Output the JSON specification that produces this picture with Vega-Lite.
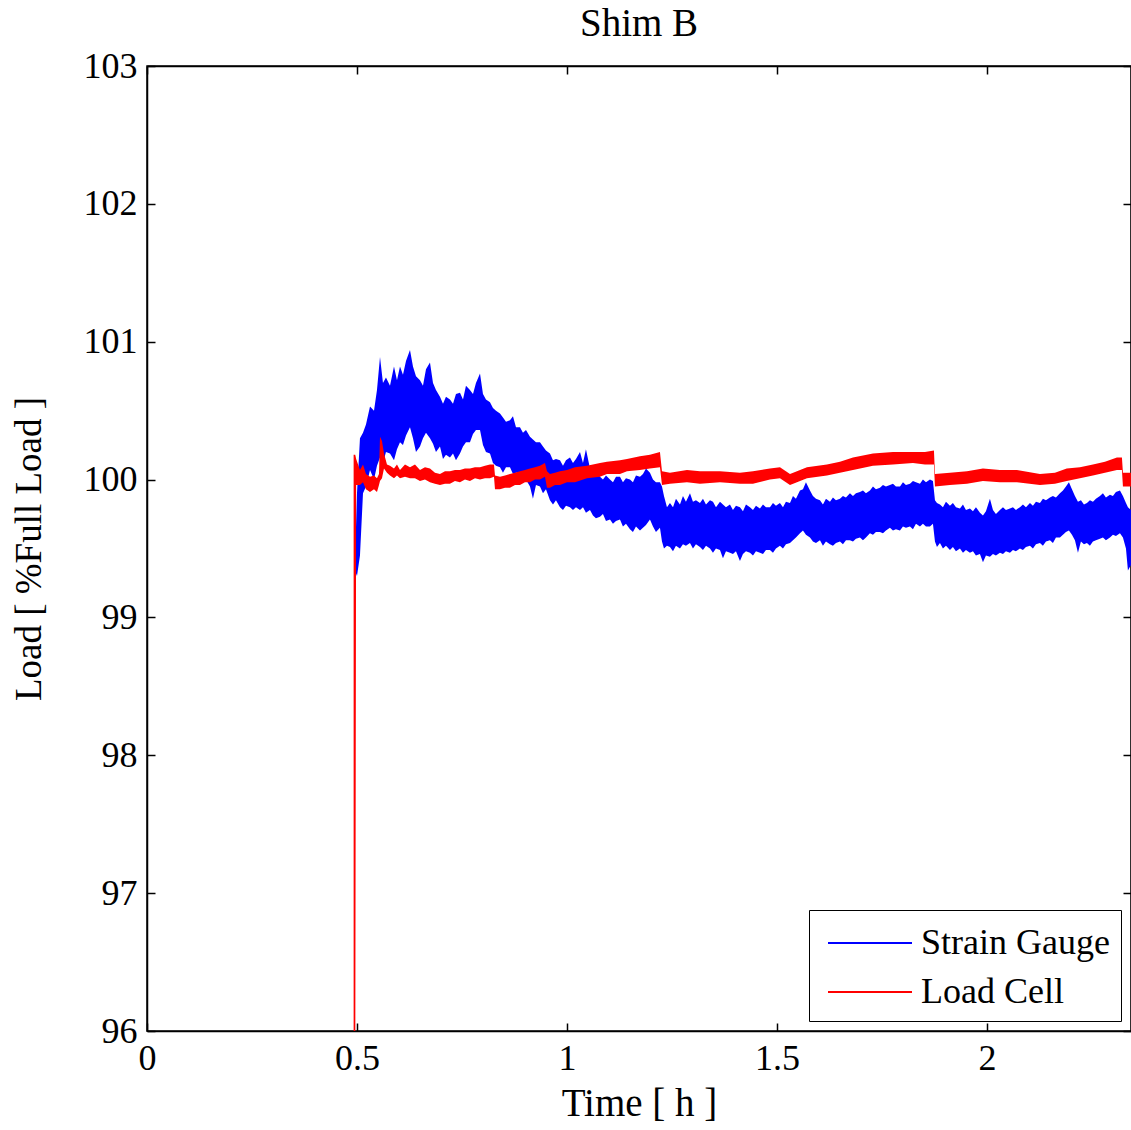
{
  "$schema": "https://vega.github.io/schema/vega-lite/v6.json",
  "width": 984,
  "height": 965,
  "autosize": {"type": "none"},
  "padding": {"left": 147, "top": 66, "right": 0, "bottom": 99},
  "background": "white",
  "title": {"text": "Shim B", "font": "Liberation Serif", "fontSize": 39, "fontWeight": "normal", "color": "black", "offset": 4, "anchor": "middle"},
  "config": {
    "view": {"stroke": "black", "strokeWidth": 1.5},
    "axis": {"grid": false, "domainColor": "black", "domainWidth": 1.5, "tickColor": "black", "tickWidth": 1.5, "tickSize": -8, "labelFlush": false, "labelFont": "Liberation Serif", "labelFontSize": 36, "labelColor": "black", "titleFont": "Liberation Serif", "titleFontSize": 39, "titleFontWeight": "normal", "titleColor": "black"},
    "legend": {"labelFont": "Liberation Serif", "labelFontSize": 36, "labelColor": "black", "labelLimit": 0}
  },
  "datasets": {
    "sg": [
      {"t":0.4952,"lo":99.34,"hi":99.40},{"t":0.5,"lo":99.30,"hi":99.90},{"t":0.5071,"lo":99.45,"hi":100.30},{"t":0.5143,"lo":99.90,"hi":100.34},{"t":0.5214,"lo":99.95,"hi":100.40},{"t":0.531,"lo":100.07,"hi":100.53},{"t":0.5405,"lo":100.0,"hi":100.50},{"t":0.5476,"lo":100.10,"hi":100.65},{"t":0.5548,"lo":100.16,"hi":100.89},{"t":0.5619,"lo":100.12,"hi":100.70},{"t":0.569,"lo":100.20,"hi":100.74},{"t":0.5786,"lo":100.19,"hi":100.68},{"t":0.5881,"lo":100.14,"hi":100.82},{"t":0.5952,"lo":100.22,"hi":100.72},{"t":0.6024,"lo":100.27,"hi":100.82},{"t":0.6095,"lo":100.25,"hi":100.76},{"t":0.6167,"lo":100.32,"hi":100.86},{"t":0.6262,"lo":100.38,"hi":100.94},{"t":0.6333,"lo":100.30,"hi":100.82},{"t":0.6405,"lo":100.20,"hi":100.75},{"t":0.65,"lo":100.24,"hi":100.72},{"t":0.6571,"lo":100.30,"hi":100.68},{"t":0.6643,"lo":100.34,"hi":100.80},{"t":0.6738,"lo":100.30,"hi":100.85},{"t":0.681,"lo":100.26,"hi":100.70},{"t":0.6881,"lo":100.20,"hi":100.65},{"t":0.6976,"lo":100.24,"hi":100.60},{"t":0.7048,"lo":100.15,"hi":100.55},{"t":0.7119,"lo":100.18,"hi":100.60},{"t":0.7214,"lo":100.16,"hi":100.58},{"t":0.7286,"lo":100.19,"hi":100.55},{"t":0.7357,"lo":100.14,"hi":100.62},{"t":0.7452,"lo":100.19,"hi":100.63},{"t":0.7524,"lo":100.24,"hi":100.58},{"t":0.7595,"lo":100.27,"hi":100.68},{"t":0.769,"lo":100.27,"hi":100.65},{"t":0.7762,"lo":100.33,"hi":100.62},{"t":0.7833,"lo":100.36,"hi":100.70},{"t":0.7929,"lo":100.36,"hi":100.77},{"t":0.8,"lo":100.25,"hi":100.62},{"t":0.8071,"lo":100.20,"hi":100.58},{"t":0.8167,"lo":100.19,"hi":100.56},{"t":0.8238,"lo":100.12,"hi":100.52},{"t":0.831,"lo":100.10,"hi":100.50},{"t":0.8405,"lo":100.09,"hi":100.48},{"t":0.8476,"lo":100.05,"hi":100.45},{"t":0.8548,"lo":100.09,"hi":100.42},{"t":0.8643,"lo":100.09,"hi":100.43},{"t":0.8714,"lo":100.04,"hi":100.46},{"t":0.8786,"lo":100.05,"hi":100.38},{"t":0.8881,"lo":100.05,"hi":100.38},{"t":0.8952,"lo":99.98,"hi":100.34},{"t":0.9024,"lo":100.0,"hi":100.36},{"t":0.9119,"lo":99.95,"hi":100.31},{"t":0.919,"lo":99.86,"hi":100.29},{"t":0.9262,"lo":99.96,"hi":100.27},{"t":0.9357,"lo":99.95,"hi":100.27},{"t":0.9429,"lo":99.90,"hi":100.24},{"t":0.95,"lo":99.93,"hi":100.21},{"t":0.9595,"lo":99.85,"hi":100.19},{"t":0.9667,"lo":99.82,"hi":100.14},{"t":0.9738,"lo":99.85,"hi":100.15},{"t":0.9833,"lo":99.80,"hi":100.14},{"t":0.9905,"lo":99.78,"hi":100.10},{"t":0.9976,"lo":99.81,"hi":100.14},{"t":1.0071,"lo":99.80,"hi":100.16},{"t":1.0143,"lo":99.78,"hi":100.12},{"t":1.0214,"lo":99.80,"hi":100.15},{"t":1.031,"lo":99.78,"hi":100.20},{"t":1.0381,"lo":99.80,"hi":100.12},{"t":1.0452,"lo":99.76,"hi":100.22},{"t":1.0548,"lo":99.78,"hi":100.08},{"t":1.0619,"lo":99.74,"hi":100.02},{"t":1.069,"lo":99.72,"hi":100.06},{"t":1.0786,"lo":99.73,"hi":100.02},{"t":1.0857,"lo":99.75,"hi":100.0},{"t":1.0929,"lo":99.70,"hi":100.03},{"t":1.1024,"lo":99.71,"hi":100.0},{"t":1.1095,"lo":99.68,"hi":99.98},{"t":1.1167,"lo":99.70,"hi":100.02},{"t":1.1262,"lo":99.71,"hi":100.02},{"t":1.1333,"lo":99.66,"hi":99.98},{"t":1.1405,"lo":99.68,"hi":100.01},{"t":1.15,"lo":99.64,"hi":100.0},{"t":1.1571,"lo":99.62,"hi":99.98},{"t":1.1643,"lo":99.66,"hi":100.03},{"t":1.1738,"lo":99.63,"hi":100.02},{"t":1.181,"lo":99.65,"hi":100.04},{"t":1.1881,"lo":99.67,"hi":100.08},{"t":1.1976,"lo":99.71,"hi":100.05},{"t":1.2048,"lo":99.66,"hi":100.0},{"t":1.2119,"lo":99.62,"hi":99.98},{"t":1.2214,"lo":99.65,"hi":99.98},{"t":1.2262,"lo":99.55,"hi":99.95},{"t":1.231,"lo":99.50,"hi":99.88},{"t":1.2381,"lo":99.52,"hi":99.80},{"t":1.2452,"lo":99.51,"hi":99.83},{"t":1.2524,"lo":99.48,"hi":99.80},{"t":1.2595,"lo":99.52,"hi":99.86},{"t":1.269,"lo":99.50,"hi":99.82},{"t":1.2762,"lo":99.53,"hi":99.88},{"t":1.2833,"lo":99.52,"hi":99.84},{"t":1.2929,"lo":99.54,"hi":99.90},{"t":1.3,"lo":99.50,"hi":99.84},{"t":1.3071,"lo":99.53,"hi":99.85},{"t":1.3167,"lo":99.51,"hi":99.83},{"t":1.3238,"lo":99.49,"hi":99.86},{"t":1.331,"lo":99.52,"hi":99.82},{"t":1.3405,"lo":99.50,"hi":99.85},{"t":1.3476,"lo":99.47,"hi":99.84},{"t":1.3548,"lo":99.50,"hi":99.80},{"t":1.3643,"lo":99.49,"hi":99.84},{"t":1.3714,"lo":99.43,"hi":99.82},{"t":1.3786,"lo":99.48,"hi":99.80},{"t":1.3881,"lo":99.47,"hi":99.82},{"t":1.3952,"lo":99.46,"hi":99.78},{"t":1.4024,"lo":99.48,"hi":99.81},{"t":1.4119,"lo":99.41,"hi":99.80},{"t":1.419,"lo":99.46,"hi":99.77},{"t":1.4262,"lo":99.48,"hi":99.82},{"t":1.4357,"lo":99.47,"hi":99.80},{"t":1.4429,"lo":99.45,"hi":99.78},{"t":1.45,"lo":99.48,"hi":99.81},{"t":1.4595,"lo":99.47,"hi":99.79},{"t":1.4667,"lo":99.46,"hi":99.82},{"t":1.4738,"lo":99.49,"hi":99.80},{"t":1.4833,"lo":99.49,"hi":99.80},{"t":1.4905,"lo":99.47,"hi":99.83},{"t":1.4976,"lo":99.50,"hi":99.81},{"t":1.5071,"lo":99.52,"hi":99.83},{"t":1.5143,"lo":99.50,"hi":99.80},{"t":1.5214,"lo":99.53,"hi":99.84},{"t":1.531,"lo":99.54,"hi":99.83},{"t":1.5381,"lo":99.56,"hi":99.88},{"t":1.5452,"lo":99.58,"hi":99.86},{"t":1.5548,"lo":99.61,"hi":99.92},{"t":1.5619,"lo":99.63,"hi":99.93},{"t":1.569,"lo":99.60,"hi":99.98},{"t":1.5786,"lo":99.58,"hi":99.92},{"t":1.5857,"lo":99.55,"hi":99.88},{"t":1.5929,"lo":99.54,"hi":99.86},{"t":1.6024,"lo":99.56,"hi":99.85},{"t":1.6095,"lo":99.52,"hi":99.82},{"t":1.6167,"lo":99.55,"hi":99.86},{"t":1.6262,"lo":99.53,"hi":99.84},{"t":1.6333,"lo":99.52,"hi":99.87},{"t":1.6405,"lo":99.54,"hi":99.85},{"t":1.65,"lo":99.55,"hi":99.86},{"t":1.6571,"lo":99.53,"hi":99.88},{"t":1.6643,"lo":99.56,"hi":99.87},{"t":1.6738,"lo":99.56,"hi":99.90},{"t":1.681,"lo":99.55,"hi":99.88},{"t":1.6881,"lo":99.57,"hi":99.90},{"t":1.6976,"lo":99.58,"hi":99.91},{"t":1.7048,"lo":99.56,"hi":99.92},{"t":1.7119,"lo":99.58,"hi":99.90},{"t":1.7214,"lo":99.61,"hi":99.92},{"t":1.7286,"lo":99.60,"hi":99.95},{"t":1.7357,"lo":99.62,"hi":99.93},{"t":1.7452,"lo":99.62,"hi":99.94},{"t":1.7524,"lo":99.61,"hi":99.96},{"t":1.7595,"lo":99.63,"hi":99.95},{"t":1.769,"lo":99.65,"hi":99.96},{"t":1.7762,"lo":99.63,"hi":99.97},{"t":1.7833,"lo":99.64,"hi":99.95},{"t":1.7929,"lo":99.63,"hi":99.95},{"t":1.8,"lo":99.66,"hi":99.98},{"t":1.8071,"lo":99.65,"hi":99.96},{"t":1.8167,"lo":99.66,"hi":99.97},{"t":1.8238,"lo":99.64,"hi":99.99},{"t":1.831,"lo":99.68,"hi":99.98},{"t":1.8405,"lo":99.66,"hi":99.97},{"t":1.8476,"lo":99.68,"hi":100.0},{"t":1.8548,"lo":99.66,"hi":99.98},{"t":1.8643,"lo":99.66,"hi":100.0},{"t":1.8714,"lo":99.68,"hi":99.99},{"t":1.8762,"lo":99.55,"hi":99.85},{"t":1.881,"lo":99.51,"hi":99.83},{"t":1.8881,"lo":99.54,"hi":99.82},{"t":1.8952,"lo":99.50,"hi":99.80},{"t":1.9024,"lo":99.52,"hi":99.84},{"t":1.9119,"lo":99.49,"hi":99.81},{"t":1.919,"lo":99.51,"hi":99.83},{"t":1.9262,"lo":99.48,"hi":99.80},{"t":1.9357,"lo":99.50,"hi":99.79},{"t":1.9429,"lo":99.47,"hi":99.82},{"t":1.95,"lo":99.49,"hi":99.78},{"t":1.9595,"lo":99.47,"hi":99.79},{"t":1.9667,"lo":99.48,"hi":99.77},{"t":1.9738,"lo":99.45,"hi":99.80},{"t":1.9833,"lo":99.46,"hi":99.76},{"t":1.9905,"lo":99.40,"hi":99.74},{"t":1.9976,"lo":99.45,"hi":99.77},{"t":2.0071,"lo":99.44,"hi":99.86},{"t":2.0143,"lo":99.46,"hi":99.78},{"t":2.0214,"lo":99.45,"hi":99.75},{"t":2.031,"lo":99.47,"hi":99.78},{"t":2.0381,"lo":99.46,"hi":99.80},{"t":2.0452,"lo":99.48,"hi":99.78},{"t":2.0548,"lo":99.47,"hi":99.79},{"t":2.0619,"lo":99.49,"hi":99.80},{"t":2.069,"lo":99.48,"hi":99.78},{"t":2.0786,"lo":99.50,"hi":99.80},{"t":2.0857,"lo":99.49,"hi":99.82},{"t":2.0929,"lo":99.51,"hi":99.80},{"t":2.1024,"lo":99.52,"hi":99.83},{"t":2.1095,"lo":99.50,"hi":99.81},{"t":2.1167,"lo":99.53,"hi":99.84},{"t":2.1262,"lo":99.54,"hi":99.83},{"t":2.1333,"lo":99.52,"hi":99.86},{"t":2.1405,"lo":99.55,"hi":99.85},{"t":2.15,"lo":99.56,"hi":99.87},{"t":2.1571,"lo":99.54,"hi":99.88},{"t":2.1643,"lo":99.58,"hi":99.87},{"t":2.1738,"lo":99.58,"hi":99.90},{"t":2.181,"lo":99.60,"hi":99.92},{"t":2.1881,"lo":99.62,"hi":99.95},{"t":2.1952,"lo":99.63,"hi":99.98},{"t":2.2024,"lo":99.60,"hi":99.93},{"t":2.2095,"lo":99.56,"hi":99.88},{"t":2.2167,"lo":99.47,"hi":99.84},{"t":2.2238,"lo":99.55,"hi":99.85},{"t":2.231,"lo":99.53,"hi":99.82},{"t":2.2381,"lo":99.54,"hi":99.83},{"t":2.2452,"lo":99.52,"hi":99.85},{"t":2.2524,"lo":99.55,"hi":99.84},{"t":2.2595,"lo":99.56,"hi":99.86},{"t":2.269,"lo":99.57,"hi":99.88},{"t":2.2762,"lo":99.58,"hi":99.90},{"t":2.2833,"lo":99.56,"hi":99.87},{"t":2.2929,"lo":99.58,"hi":99.89},{"t":2.3,"lo":99.60,"hi":99.88},{"t":2.3071,"lo":99.59,"hi":99.91},{"t":2.3167,"lo":99.61,"hi":99.92},{"t":2.3238,"lo":99.58,"hi":99.88},{"t":2.331,"lo":99.50,"hi":99.83},{"t":2.3357,"lo":99.34,"hi":99.80},{"t":2.3429,"lo":99.38,"hi":99.78}
    ],
    "lc": [
      {"t":0.492,"lo":95.5,"hi":100.18},{"t":0.4958,"lo":95.5,"hi":100.18},{"t":0.498,"lo":99.96,"hi":100.15},{"t":0.5071,"lo":99.96,"hi":100.07},{"t":0.5143,"lo":99.98,"hi":100.11},{"t":0.5214,"lo":99.93,"hi":100.04},{"t":0.531,"lo":99.91,"hi":100.02},{"t":0.5405,"lo":99.93,"hi":100.03},{"t":0.5476,"lo":99.91,"hi":100.01},{"t":0.5524,"lo":99.96,"hi":100.04},{"t":0.5548,"lo":99.99,"hi":100.31},{"t":0.5595,"lo":100.01,"hi":100.28},{"t":0.5643,"lo":100.08,"hi":100.19},{"t":0.5714,"lo":100.05,"hi":100.11},{"t":0.5786,"lo":100.03,"hi":100.10},{"t":0.5881,"lo":100.01,"hi":100.08},{"t":0.5952,"lo":100.03,"hi":100.11},{"t":0.6024,"lo":100.01,"hi":100.07},{"t":0.6143,"lo":100.02,"hi":100.11},{"t":0.6262,"lo":100.01,"hi":100.09},{"t":0.6381,"lo":100.01,"hi":100.11},{"t":0.65,"lo":99.99,"hi":100.07},{"t":0.6619,"lo":100.0,"hi":100.09},{"t":0.6738,"lo":99.98,"hi":100.08},{"t":0.6857,"lo":99.97,"hi":100.05},{"t":0.6976,"lo":99.96,"hi":100.04},{"t":0.7095,"lo":99.97,"hi":100.06},{"t":0.7214,"lo":99.97,"hi":100.06},{"t":0.7333,"lo":99.99,"hi":100.07},{"t":0.7452,"lo":99.98,"hi":100.07},{"t":0.7571,"lo":100.0,"hi":100.08},{"t":0.769,"lo":99.99,"hi":100.08},{"t":0.781,"lo":100.01,"hi":100.09},{"t":0.7929,"lo":100.0,"hi":100.09},{"t":0.8048,"lo":100.01,"hi":100.10},{"t":0.8167,"lo":100.01,"hi":100.11},{"t":0.8262,"lo":100.02,"hi":100.11},{"t":0.8286,"lo":99.93,"hi":100.03},{"t":0.8405,"lo":99.93,"hi":100.02},{"t":0.8524,"lo":99.94,"hi":100.03},{"t":0.8643,"lo":99.94,"hi":100.04},{"t":0.8762,"lo":99.96,"hi":100.05},{"t":0.8881,"lo":99.96,"hi":100.06},{"t":0.9,"lo":99.98,"hi":100.07},{"t":0.9119,"lo":99.98,"hi":100.08},{"t":0.9238,"lo":100.0,"hi":100.09},{"t":0.9357,"lo":100.0,"hi":100.10},{"t":0.9476,"lo":100.02,"hi":100.12},{"t":0.9524,"lo":99.94,"hi":100.06},{"t":0.9595,"lo":99.94,"hi":100.04},{"t":0.9714,"lo":99.96,"hi":100.05},{"t":0.9833,"lo":99.96,"hi":100.06},{"t":1.0,"lo":99.98,"hi":100.07},{"t":1.019,"lo":99.98,"hi":100.09},{"t":1.0476,"lo":100.01,"hi":100.10},{"t":1.0786,"lo":100.02,"hi":100.12},{"t":1.0952,"lo":100.04,"hi":100.13},{"t":1.1262,"lo":100.04,"hi":100.14},{"t":1.1429,"lo":100.06,"hi":100.15},{"t":1.1738,"lo":100.07,"hi":100.17},{"t":1.1976,"lo":100.08,"hi":100.18},{"t":1.2214,"lo":100.09,"hi":100.20},{"t":1.2262,"lo":99.96,"hi":100.06},{"t":1.2452,"lo":99.97,"hi":100.05},{"t":1.2857,"lo":99.98,"hi":100.07},{"t":1.3167,"lo":99.97,"hi":100.06},{"t":1.3643,"lo":99.98,"hi":100.06},{"t":1.4119,"lo":99.97,"hi":100.05},{"t":1.4429,"lo":99.97,"hi":100.06},{"t":1.4833,"lo":100.0,"hi":100.08},{"t":1.5071,"lo":100.01,"hi":100.09},{"t":1.531,"lo":99.96,"hi":100.04},{"t":1.5476,"lo":99.98,"hi":100.06},{"t":1.5714,"lo":100.01,"hi":100.09},{"t":1.619,"lo":100.03,"hi":100.11},{"t":1.65,"lo":100.05,"hi":100.13},{"t":1.681,"lo":100.07,"hi":100.16},{"t":1.7286,"lo":100.10,"hi":100.19},{"t":1.7762,"lo":100.11,"hi":100.20},{"t":1.8238,"lo":100.12,"hi":100.20},{"t":1.8524,"lo":100.11,"hi":100.20},{"t":1.8738,"lo":100.11,"hi":100.21},{"t":1.8762,"lo":99.95,"hi":100.04},{"t":1.9119,"lo":99.96,"hi":100.05},{"t":1.9524,"lo":99.97,"hi":100.06},{"t":1.9905,"lo":99.99,"hi":100.08},{"t":2.031,"lo":99.98,"hi":100.07},{"t":2.0714,"lo":99.98,"hi":100.07},{"t":2.1262,"lo":99.96,"hi":100.04},{"t":2.1619,"lo":99.97,"hi":100.05},{"t":2.19,"lo":99.99,"hi":100.08},{"t":2.2214,"lo":100.01,"hi":100.09},{"t":2.2524,"lo":100.03,"hi":100.11},{"t":2.281,"lo":100.05,"hi":100.13},{"t":2.3095,"lo":100.07,"hi":100.16},{"t":2.3214,"lo":100.07,"hi":100.16},{"t":2.3238,"lo":99.95,"hi":100.05},{"t":2.3429,"lo":99.95,"hi":100.05}
    ]
  },
  "resolve": {"axis": {"x": "independent", "y": "independent"}},
  "layer": [
    {
      "data": {"name": "sg"},
      "mark": {"type": "area", "clip": true},
      "encoding": {
        "x": {"field": "t", "type": "quantitative", "scale": {"domain": [0, 2.343], "nice": false, "zero": false}, "axis": {"title": "Time [ h ]", "values": [0, 0.5, 1, 1.5, 2], "format": "~g", "labelPadding": 18, "titlePadding": 8}},
        "y": {"field": "lo", "type": "quantitative", "scale": {"domain": [96, 103], "nice": false, "zero": false}, "axis": {"title": "Load [ %Full Load ]", "values": [96, 97, 98, 99, 100, 101, 102, 103], "labelPadding": 18, "titlePadding": 35, "titleFontSize": 37}},
        "y2": {"field": "hi"},
        "color": {"datum": "Strain Gauge", "scale": {"domain": ["Strain Gauge", "Load Cell"], "range": ["#0000ff", "#ff0000"]},
          "legend": {"title": null, "orient": "bottom-right", "offset": 10, "symbolType": "M-2,0H2", "symbolSize": 1764, "symbolStrokeWidth": 2, "symbolOffset": 28, "fillColor": "white", "strokeColor": "black", "padding": 11, "rowPadding": 9, "labelOffset": 29,
            "encode": {"symbols": {"update": {"stroke": {"scale": "color", "field": "value"}, "strokeWidth": {"value": 2}, "fill": {"value": "transparent"}}}}}}
      }
    },
    {
      "data": {"name": "lc"},
      "mark": {"type": "area", "clip": true},
      "encoding": {
        "x": {"field": "t", "type": "quantitative", "axis": {"orient": "top", "labels": false, "title": null, "values": [0, 0.5, 1, 1.5, 2]}},
        "y": {"field": "lo", "type": "quantitative", "axis": {"orient": "right", "labels": false, "title": null, "values": [96, 97, 98, 99, 100, 101, 102, 103]}},
        "y2": {"field": "hi"},
        "color": {"datum": "Load Cell"}
      }
    }
  ]
}
